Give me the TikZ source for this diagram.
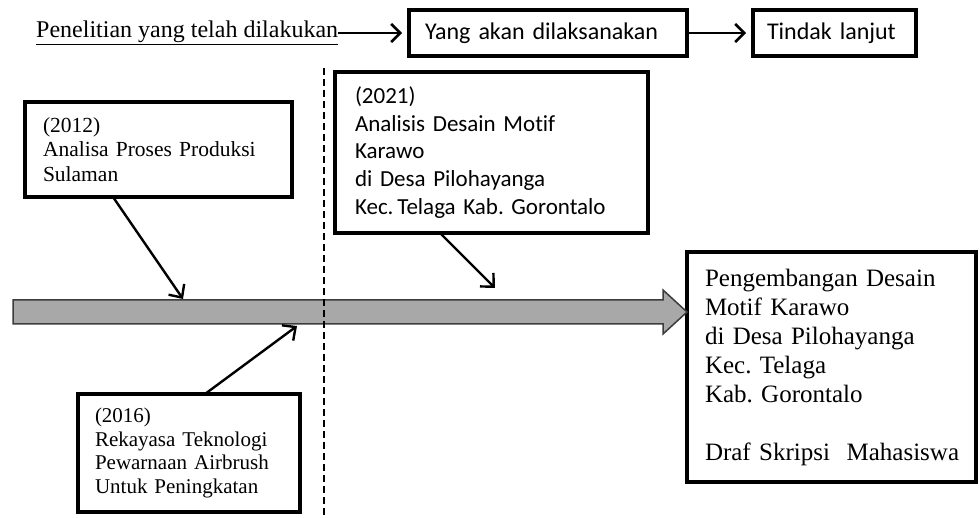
\documentclass[tikz,border=0pt]{standalone}
\usepackage{fontspec}
\setmainfont{Liberation Serif}
\newfontfamily\calfont[Ligatures=NoCommon]{Carlito}
\usetikzlibrary{arrows.meta,calc}
\definecolor{tlgray}{RGB}{168,168,168}
\definecolor{tldark}{RGB}{60,60,60}
\begin{document}
\frenchspacing
\hyphenpenalty=10000
\exhyphenpenalty=10000
\begin{tikzpicture}[x=1pt,y=-1pt,
  box/.style={draw=black,line width=3.5pt,rectangle,anchor=north west,align=left,inner ysep=0pt,outer sep=0pt},
  conn/.style={draw=black,line width=2.4pt,-{Straight Barb[length=10pt,width=19pt,line width=2.4pt]}},
  topconn/.style={draw=black,line width=2.8pt,-{Straight Barb[length=9pt,width=18pt,line width=2.6pt]},shorten >=7pt},
]
\useasboundingbox[fill=white] (0,0) rectangle (980,518);

% top row
\node[anchor=west,inner sep=0pt,font=\fontsize{24}{28}\selectfont] (pen) at (36,33) {\underline{Penelitian yang telah dilakukan}};
\node[box,minimum width=278pt,minimum height=46pt,inner xsep=16pt,text width=246pt,font=\calfont\fontsize{24}{28}\selectfont] (yang) at (409,10) {Yang akan dilaksanakan};
\node[box,minimum width=163pt,minimum height=46pt,inner xsep=14pt,text width=135pt,font=\calfont\fontsize{24}{28}\selectfont] (tindak) at (753,10) {Tindak lanjut};
\draw[topconn] (pen.east) -- (yang.west);
\draw[topconn] (yang.east) -- (tindak.west);

% boxes
\node[box,minimum width=267pt,minimum height=95pt,inner xsep=18pt,text width=231pt,font=\fontsize{21.5}{24.7}\selectfont] (b2012) at (25,102) {(2012)\\Analisa Proses Produksi\\Sulaman};
\node[box,minimum width=313pt,minimum height=161pt,inner xsep=20pt,text width=273pt,font=\calfont\fontsize{23}{27.6}\selectfont] (b2021) at (335,72) {(2021)\\Analisis Desain Motif\\Karawo\\di Desa Pilohayanga\\Kec.\,Telaga Kab. Gorontalo};
\node[box,minimum width=222pt,minimum height=118pt,inner xsep=17pt,text width=188pt,font=\fontsize{21}{23.5}\selectfont] (b2016) at (78,394) {(2016)\\Rekayasa Teknologi\\Pewarnaan Airbrush\\Untuk Peningkatan};
\node[box,minimum width=289pt,minimum height=230pt,inner xsep=12pt,text width=265pt,font=\fontsize{25}{29}\selectfont] (final) at (687,252) {\hspace*{6pt}Pengembangan Desain\\\hspace*{6pt}Motif Karawo\\\hspace*{6pt}di Desa Pilohayanga\\\hspace*{6pt}Kec. Telaga\\\hspace*{6pt}Kab. Gorontalo\\[29pt]\hspace*{6pt}Draf Skripsi\ \ Mahasiswa};

% timeline arrow
\filldraw[fill=tlgray,draw=tldark,line width=1.5pt,line join=miter]
  (13,300) -- (663,300) -- (663,290) -- (687,312) -- (663,334) -- (663,324) -- (13,324) -- cycle;
\coordinate (t2012) at (183,299);
\coordinate (t2021) at (495,288);
\coordinate (t2016) at (297,326);

% dashed divider
\coordinate (dtop) at (324,68);
\coordinate (dbot) at (324,518);
\draw[black,line width=2.4pt,dash pattern=on 7pt off 4pt] (dtop) -- (dbot);

% connectors
\draw[conn] ($(b2012.south west)+(88,0)$) -- (t2012);
\draw[conn] ($(b2021.south west)+(105,0)$) -- (t2021);
\draw[conn] ($(b2016.north west)+(127,0)$) -- (t2016);
\end{tikzpicture}
\end{document}
